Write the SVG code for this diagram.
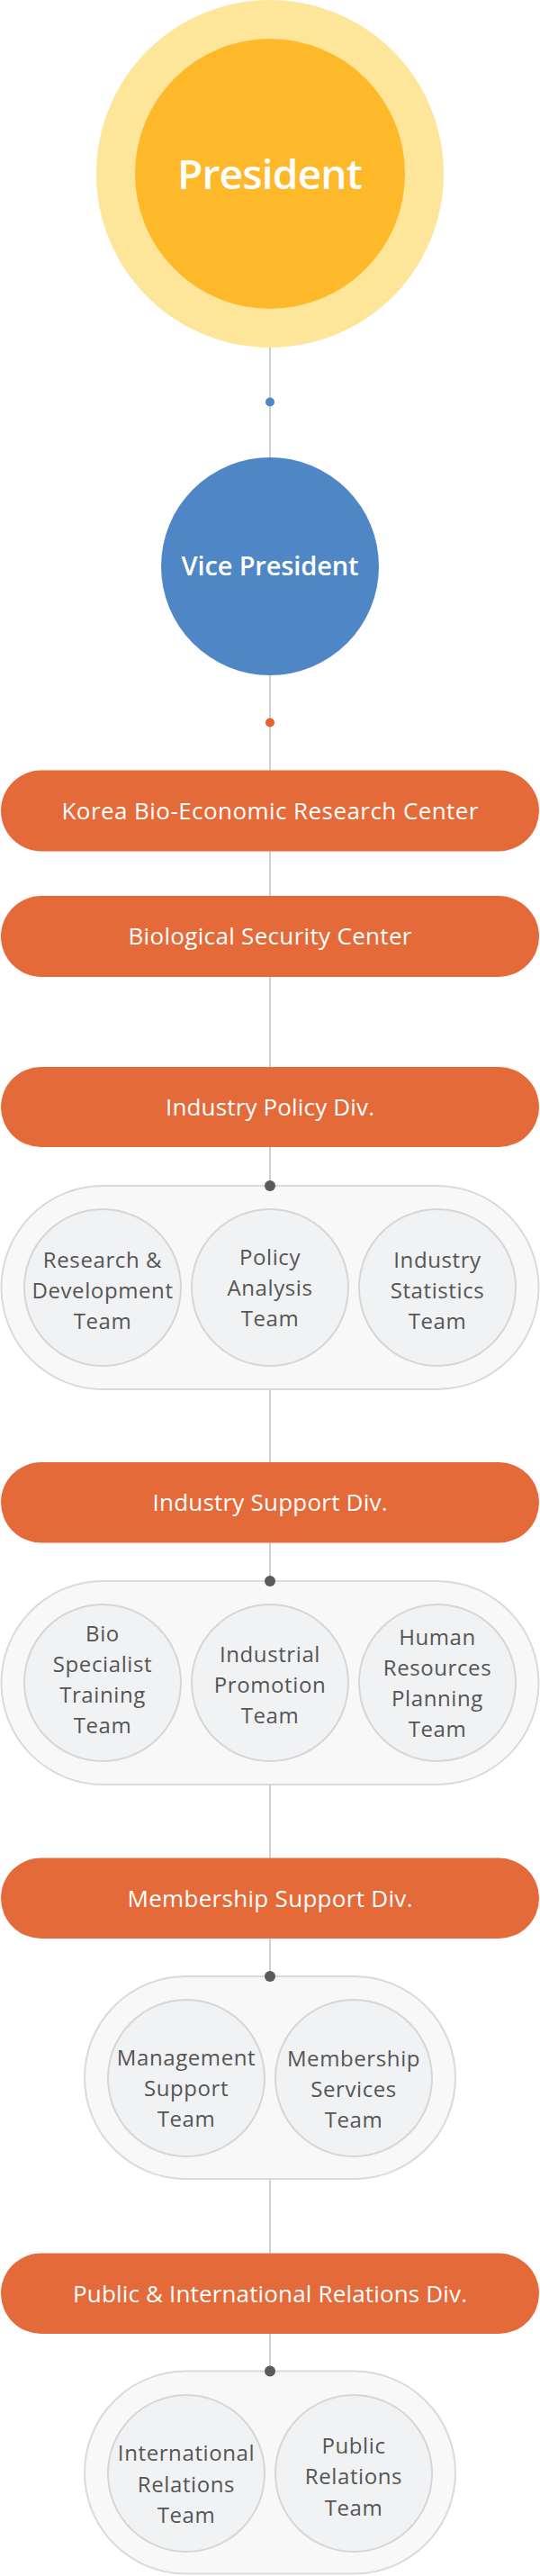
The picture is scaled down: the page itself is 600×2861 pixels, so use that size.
<svg xmlns="http://www.w3.org/2000/svg" width="600" height="2861" viewBox="0 0 600 2861">
<style>
.lbl{font-family:"Open Sans","Noto Sans","Liberation Sans",sans-serif;text-anchor:middle}
.pill{fill:#E46A39}
.pilltxt{fill:#ffffff;font-size:26px;font-weight:400}
.grp{fill:#F8F8F8;stroke:#DADADA;stroke-width:2}
.team{fill:#F1F2F4;stroke:#D6D6D6;stroke-width:2}
.teamtxt{fill:#555555;font-size:24px;font-weight:400;letter-spacing:0.6px}
.dot{fill:#5A5A5A}
</style>
<rect width="600" height="2861" fill="#ffffff"/>
<g id="connectors">
<line x1="300" y1="386" x2="300" y2="2633" stroke="#D0D0D0" stroke-width="2"/>
<circle cx="300" cy="446.5" r="5" fill="#4F86C6"/>
<circle cx="300" cy="802.5" r="5" fill="#E4632F"/>
</g>
<g id="president">
<circle cx="300" cy="193" r="193" fill="#FDE69A"/>
<circle cx="300" cy="193" r="150" fill="#FEB92A"/>
<text class="lbl" x="300" y="210" fill="#ffffff" font-size="46" font-weight="600" textLength="206" lengthAdjust="spacing">President</text>
</g>
<g id="vice-president">
<circle cx="300" cy="629" r="121" fill="#4F86C6"/>
<text class="lbl" x="300" y="639" fill="#ffffff" font-size="29" font-weight="600" textLength="197" lengthAdjust="spacing">Vice President</text>
</g>
<g id="korea-bio-economic-research-center">
<rect class="pill" x="1" y="855.5" width="598" height="90" rx="45"/>
<text class="lbl pilltxt" x="300" y="910" textLength="463" lengthAdjust="spacing">Korea Bio-Economic Research Center</text>
</g>
<g id="biological-security-center">
<rect class="pill" x="1" y="995" width="598" height="90" rx="45"/>
<text class="lbl pilltxt" x="300" y="1049" textLength="315" lengthAdjust="spacing">Biological Security Center</text>
</g>
<g id="industry-policy-div">
<rect class="pill" x="1" y="1185" width="598" height="89" rx="44.5"/>
<text class="lbl pilltxt" x="300" y="1238.5" textLength="232" lengthAdjust="spacing">Industry Policy Div.</text>
</g>
<g id="industry-policy-teams">
<rect class="grp" x="1.5" y="1317" width="597" height="226" rx="113"/>
<circle class="dot" cx="300" cy="1317" r="6"/>
<circle class="team" cx="114" cy="1430" r="87"/>
<text class="lbl teamtxt" x="114" y="1408">Research &amp;</text>
<text class="lbl teamtxt" x="114" y="1442">Development</text>
<text class="lbl teamtxt" x="114" y="1476">Team</text>
<circle class="team" cx="300" cy="1430" r="87"/>
<text class="lbl teamtxt" x="300" y="1405">Policy</text>
<text class="lbl teamtxt" x="300" y="1439">Analysis</text>
<text class="lbl teamtxt" x="300" y="1473">Team</text>
<circle class="team" cx="486" cy="1430" r="87"/>
<text class="lbl teamtxt" x="486" y="1408">Industry</text>
<text class="lbl teamtxt" x="486" y="1442">Statistics</text>
<text class="lbl teamtxt" x="486" y="1476">Team</text>
</g>
<g id="industry-support-div">
<rect class="pill" x="1" y="1624" width="598" height="89.5" rx="44.75"/>
<text class="lbl pilltxt" x="300" y="1678" textLength="261" lengthAdjust="spacing">Industry Support Div.</text>
</g>
<g id="industry-support-teams">
<rect class="grp" x="1.5" y="1756" width="597" height="226" rx="113"/>
<circle class="dot" cx="300" cy="1756" r="6"/>
<circle class="team" cx="114" cy="1869" r="87"/>
<text class="lbl teamtxt" x="114" y="1823">Bio</text>
<text class="lbl teamtxt" x="114" y="1857">Specialist</text>
<text class="lbl teamtxt" x="114" y="1891">Training</text>
<text class="lbl teamtxt" x="114" y="1925">Team</text>
<circle class="team" cx="300" cy="1869" r="87"/>
<text class="lbl teamtxt" x="300" y="1846">Industrial</text>
<text class="lbl teamtxt" x="300" y="1880">Promotion</text>
<text class="lbl teamtxt" x="300" y="1914">Team</text>
<circle class="team" cx="486" cy="1869" r="87"/>
<text class="lbl teamtxt" x="486" y="1827">Human</text>
<text class="lbl teamtxt" x="486" y="1861">Resources</text>
<text class="lbl teamtxt" x="486" y="1895">Planning</text>
<text class="lbl teamtxt" x="486" y="1929">Team</text>
</g>
<g id="membership-support-div">
<rect class="pill" x="1" y="2063.5" width="598" height="89.5" rx="44.75"/>
<text class="lbl pilltxt" x="300" y="2117.5" textLength="317" lengthAdjust="spacing">Membership Support Div.</text>
</g>
<g id="membership-support-teams">
<rect class="grp" x="94" y="2195" width="412" height="225" rx="112.5"/>
<circle class="dot" cx="300" cy="2195" r="6"/>
<circle class="team" cx="207" cy="2308" r="87"/>
<text class="lbl teamtxt" x="207" y="2294">Management</text>
<text class="lbl teamtxt" x="207" y="2328">Support</text>
<text class="lbl teamtxt" x="207" y="2362">Team</text>
<circle class="team" cx="393" cy="2308" r="87"/>
<text class="lbl teamtxt" x="393" y="2295">Membership</text>
<text class="lbl teamtxt" x="393" y="2329">Services</text>
<text class="lbl teamtxt" x="393" y="2363">Team</text>
</g>
<g id="public-international-relations-div">
<rect class="pill" x="1" y="2502.5" width="598" height="89.5" rx="44.75"/>
<text class="lbl pilltxt" x="300" y="2556.5" textLength="438" lengthAdjust="spacing">Public &amp; International Relations Div.</text>
</g>
<g id="public-international-relations-teams">
<rect class="grp" x="94" y="2633.5" width="412" height="225" rx="112.5"/>
<circle class="dot" cx="300" cy="2633.5" r="6"/>
<circle class="team" cx="207" cy="2747" r="87"/>
<text class="lbl teamtxt" x="207" y="2733">International</text>
<text class="lbl teamtxt" x="207" y="2767.5">Relations</text>
<text class="lbl teamtxt" x="207" y="2802">Team</text>
<circle class="team" cx="393" cy="2747" r="87"/>
<text class="lbl teamtxt" x="393" y="2725">Public</text>
<text class="lbl teamtxt" x="393" y="2759">Relations</text>
<text class="lbl teamtxt" x="393" y="2793.5">Team</text>
</g>
</svg>
